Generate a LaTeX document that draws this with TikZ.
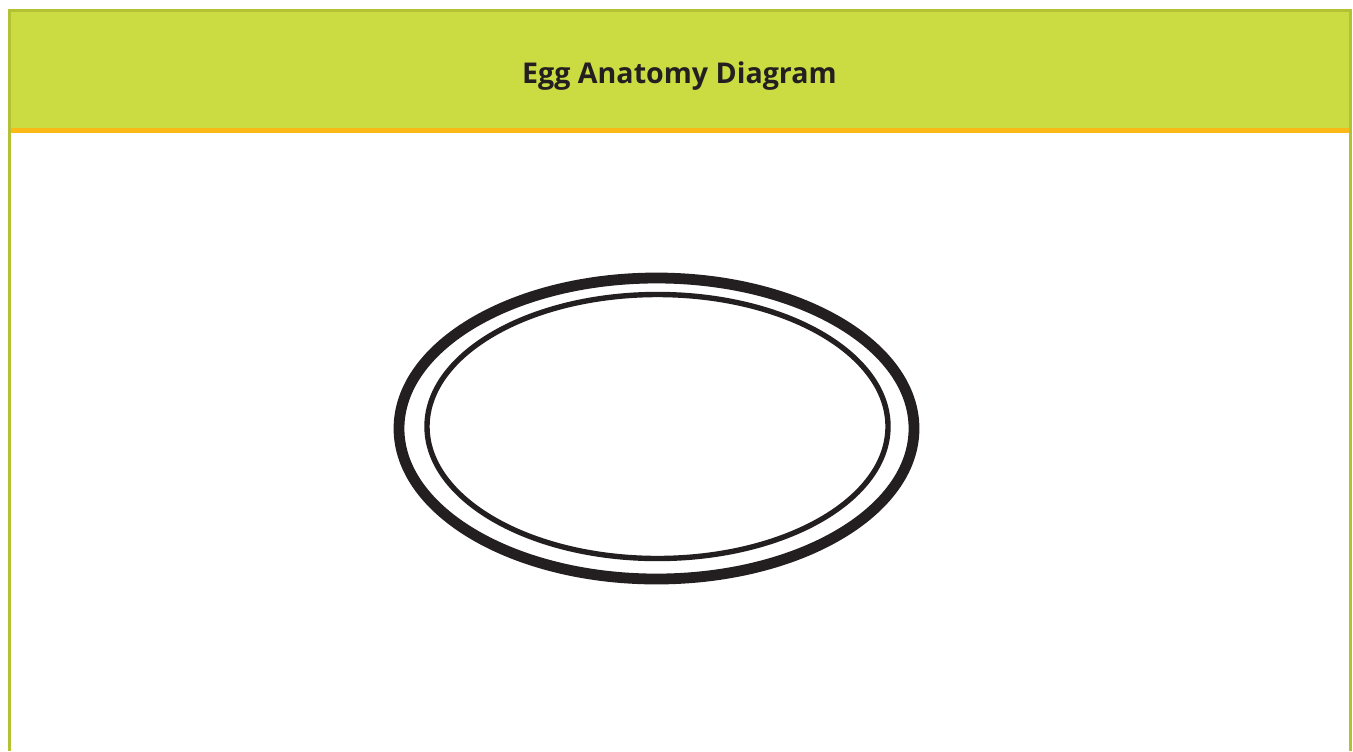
\documentclass[tikz,border=0pt]{standalone}
\usepackage{fontspec}
\setmainfont{Open Sans}
\definecolor{headgreen}{RGB}{203,220,66}
\definecolor{framegreen}{RGB}{181,193,53}
\definecolor{stripeorange}{RGB}{251,185,23}
\definecolor{inkblack}{RGB}{35,31,32}
\begin{document}
\begin{tikzpicture}[x=0.5pt,y=-0.5pt]
		\useasboundingbox (0,0) rectangle (1353,751);
		
		%Header
		\fill[headgreen] (9.5,10.5) rectangle (1350.5,128);
		\fill[stripeorange] (9.5,127.8) rectangle (1350.5,132.8);
		\draw[framegreen,line width=1.5pt]
		(9.5,751) -- (9.5,10.5) -- (1350.5,10.5) -- (1350.5,751);
		\node[anchor=base, color=inkblack, font=\bfseries\fontsize{14.3}{17}\selectfont] (title) at (679.5,83.3) {Egg Anatomy Diagram};
		
		%Egg
		\draw[inkblack,line width=5.4pt] (656.5,428.5) ellipse [x radius=257.5, y radius=150.5];
		\draw[inkblack,line width=2.7pt] (657.5,426.5) ellipse [x radius=230.5, y radius=132];
		
	\end{tikzpicture}
\end{document}
